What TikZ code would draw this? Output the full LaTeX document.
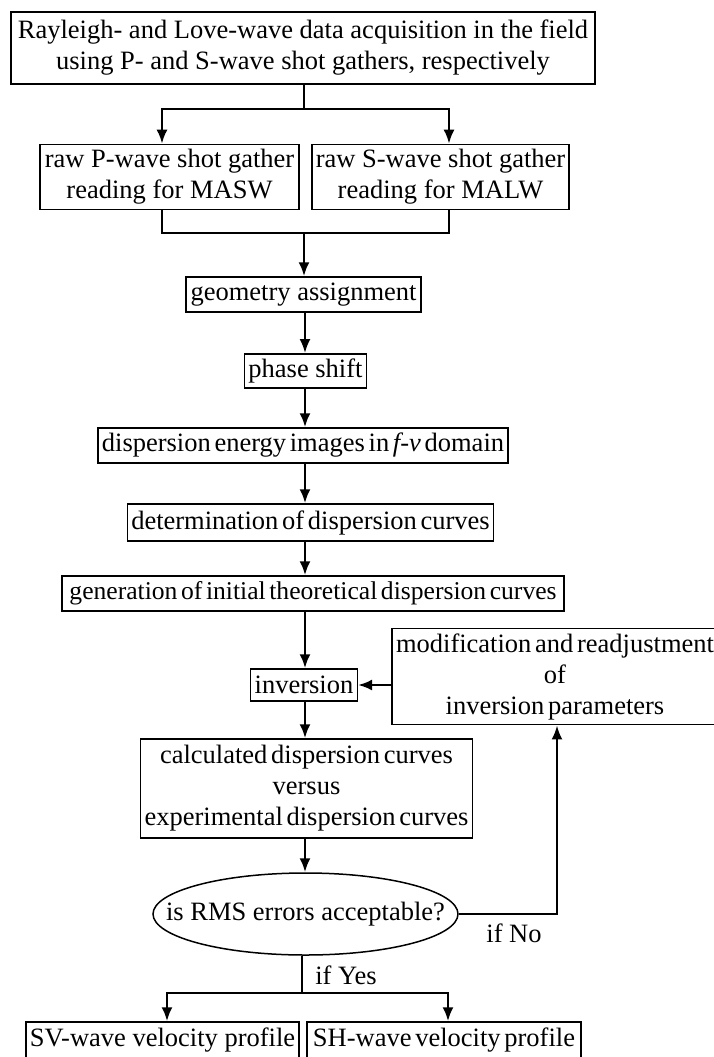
\documentclass[tikz,border=0pt]{standalone}
\usepackage{fontspec}
\setmainfont{Liberation Serif}
\usetikzlibrary{arrows.meta}
\usetikzlibrary{shapes.geometric}
\tikzset{>={Latex[length=14pt,width=11pt]}}
\newcommand{\tightwords}{\spaceskip=0.14em plus 0.05em minus 0pt\relax}

\begin{document}
\begin{tikzpicture}[x=1pt, y=-1pt]
        % P/S = raw gathers, M = modification loop, R = RMS test
        \tikzstyle{every node}=[font=\fontsize{26.5}{31}\selectfont]
        \tikzstyle{box}=[draw, line width=1.5pt, align=center, inner xsep=4pt, inner ysep=5pt]
        \tikzstyle{tight}=[font=\fontsize{26.5}{31}\selectfont\tightwords]
        \tikzstyle{conn}=[line width=2.4pt]
        \useasboundingbox (0,0) rectangle (713,1057);

        \node[box, minimum width=584, minimum height=72] (T) at (303,48)
                {Rayleigh- and Love-wave data acquisition in the field\\using P- and S-wave shot gathers, respectively};
        \node[box, minimum width=259, minimum height=64] (P) at (169.5,177) {raw P-wave shot gather\\reading for MASW};
        \node[box, minimum width=255, minimum height=64] (S) at (440.5,177) {raw S-wave shot gather\\reading for MALW};
        \node[box, minimum width=235, minimum height=35] (G) at (303.5,294.5) {geometry assignment};
        \node[box, minimum width=119, minimum height=34] (Ph) at (305.5,371) {phase shift};
        \node[box, tight, minimum width=406, minimum height=35] (D) at (303,445.5) {dispersion energy images in \textit{f-v} domain};
        \node[box, tight, minimum width=357, minimum height=37] (Det) at (310.5,522.5) {determination of dispersion curves};
        \node[box, tight, font=\fontsize{25.6}{31}\selectfont\tightwords, minimum width=502, minimum height=35] (Gen) at (313,593.5)
                {generation of initial theoretical dispersion curves};
        \node[box, minimum width=104, minimum height=32] (I) at (304,685) {inversion};
        \node[box, tight, minimum width=326, minimum height=95] (M) at (555,676.5)
                {modification and readjustment\\of\\inversion parameters};
        \node[box, tight, minimum width=325, minimum height=99] (C) at (306.5,788.5)
                {calculated dispersion curves\\versus\\experimental dispersion curves};
        \node[ellipse, draw, line width=1.5pt, minimum width=305, minimum height=82, inner sep=0pt] (R) at (305.5,914) {};
        \node (Rtxt) at (R) {is RMS errors acceptable?};
        \node[box, minimum width=271, minimum height=36] (SV) at (162.5,1040) {SV-wave velocity profile};
        \node[box, tight, minimum width=274, minimum height=36] (SH) at (444,1040) {SH-wave velocity profile};
        \node (no) at (514,933) {if No};
        \node (yes) at (346,975) {if Yes};

        \coordinate (ax) at (305,0);
        \coordinate (fork) at (304,109);
        \coordinate (join) at (304,233);
        \coordinate (split) at (302,993);

        \draw[conn] (T.south -| fork) -- (fork);
        \draw[conn, ->] (fork) -| ([xshift=-7.5pt]P.north);
        \draw[conn, ->] (fork) -| ([xshift=8.5pt]S.north);
        \draw[line width=1.5pt] ([xshift=-7.5pt]P.south) |- (join) -| ([xshift=8.5pt]S.south);
        \draw[conn, ->] (join) -- (G.north -| join);

        \foreach \a/\b in {G/Ph, Ph/D, D/Det, Det/Gen, Gen/I, I/C, C/R}
                \draw[conn, ->] (\a.south -| ax) -- (\b.north -| ax);

        \draw[conn, ->] (M.west |- I) -- (I);
        \draw[conn, ->] (R) -| ([xshift=2pt]M.south);

        \draw[line width=1.6pt] (R.south -| split) -- (split);
        \draw[conn, ->] (split) -| ([xshift=4.5pt]SV.north);
        \draw[conn, ->] (split) -| ([xshift=4pt]SH.north);
\end{tikzpicture}
\end{document}
